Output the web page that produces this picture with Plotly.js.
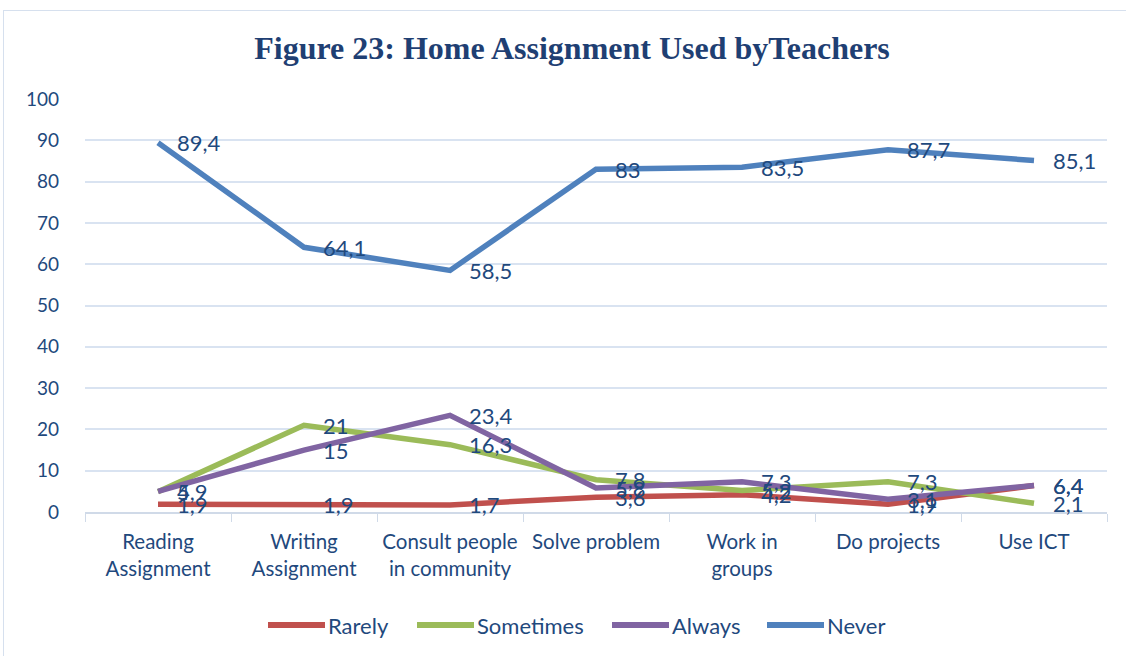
<!DOCTYPE html>
<html>
<head>
<meta charset="utf-8">
<script src="https://cdn.plot.ly/plotly-3.0.1.min.js"></script>
<style>
html,body{margin:0;padding:0;background:#fff;}
#frame{position:absolute;left:3px;top:10px;width:1140px;height:660px;border:1.5px solid #d6e0ee;box-sizing:border-box;}
#chart{position:absolute;left:0;top:0;width:1126px;height:656px;}
</style>
</head>
<body>
<div id="frame"></div>
<div id="chart"></div>
<script>
const categories = ["Reading<br>Assignment", "Writing<br>Assignment", "Consult people<br>in community", "Solve problem", "Work in<br>groups", "Do projects", "Use ICT"];
const rarely    = [1.9, 1.9, 1.7, 3.6, 4.2, 1.9, 6.4];
const sometimes = [4.9, 21, 16.3, 7.8, 5.2, 7.3, 2.1];
const always    = [5.0, 15, 23.4, 5.8, 7.3, 3.1, 6.4];
const never     = [89.4, 64.1, 58.5, 83, 83.5, 87.7, 85.1];

const seriesNames = ["Rarely", "Sometimes", "Always", "Never"];
const seriesData = [rarely, sometimes, always, never];
const colors = ["#c0504d", "#9bbb59", "#8064a2", "#4f81bd"];
const labelColor = "#1f497d";
const fontFam = "Lato, 'Open Sans', sans-serif";

// plot area geometry in pixels (for legend placement in paper coords)
const W = 1126, H = 656;
const M = {l: 85, r: 19, t: 99, b: 144};
const PW = W - M.l - M.r, PH = H - M.t - M.b;
const px2x = p => (p - M.l) / PW;
const py2y = p => (H - M.b - p) / PH;

const traces = seriesData.map((vals, i) => ({
  type: "scatter",
  mode: "lines",
  name: seriesNames[i],
  x: categories,
  y: vals,
  line: {color: colors[i], width: 5.5},
  hoverinfo: "x+y+name",
  showlegend: false
}));

const annotations = [];
seriesData.forEach((vals) => {
  vals.forEach((v, j) => {
    annotations.push({
      x: categories[j], y: v, xref: "x", yref: "y",
      text: String(v).replace(".", ","),
      showarrow: false, xanchor: "left", yanchor: "middle",
      xshift: 17,
      font: {family: fontFam, size: 22, color: labelColor}
    });
  });
});

// custom legend (long line swatches like the original)
const legendStarts = [268, 417, 612, 767];
const swatchLen = 57;
const legendY = 625;
const shapes = [];
seriesNames.forEach((nm, i) => {
  const x0 = legendStarts[i];
  shapes.push({
    type: "line", xref: "paper", yref: "paper",
    x0: px2x(x0), x1: px2x(x0 + swatchLen),
    y0: py2y(legendY), y1: py2y(legendY),
    line: {color: colors[i], width: 6}
  });
  annotations.push({
    xref: "paper", yref: "paper",
    x: px2x(x0 + swatchLen + 1), y: py2y(legendY),
    xanchor: "left", yanchor: "middle",
    text: nm, showarrow: false,
    font: {family: fontFam, size: 22, color: labelColor}
  });
});

const layout = {
  width: W, height: H,
  margin: M,
  paper_bgcolor: "rgba(0,0,0,0)",
  plot_bgcolor: "rgba(0,0,0,0)",
  title: {
    text: "<b>Figure 23: Home Assignment Used byTeachers</b>",
    font: {family: "'Liberation Serif', 'Times New Roman', serif", size: 32, color: "#1f3f73"},
    x: 0.508, xanchor: "center", y: 0.927, yanchor: "middle"
  },
  xaxis: {
    type: "category",
    tickson: "boundaries",
    ticks: "outside", ticklen: 8, tickcolor: "#d0dae8",
    showgrid: false,
    showline: true, linecolor: "#d0dae8", linewidth: 1.5,
    ticklabelstandoff: 11,
    tickfont: {family: fontFam, size: 20.5, color: labelColor},
    range: [-0.5, 6.5],
    fixedrange: true
  },
  yaxis: {
    range: [0, 100],
    dtick: 10,
    showgrid: true, gridcolor: "#d9e3f1", gridwidth: 1.5,
    zeroline: false,
    showline: false,
    ticks: "",
    ticklabelstandoff: 25,
    tickfont: {family: fontFam, size: 19, color: labelColor},
    fixedrange: true
  },
  showlegend: false,
  shapes: shapes,
  annotations: annotations
};

Plotly.newPlot("chart", traces, layout, {displayModeBar: false, responsive: false});
</script>
</body>
</html>
